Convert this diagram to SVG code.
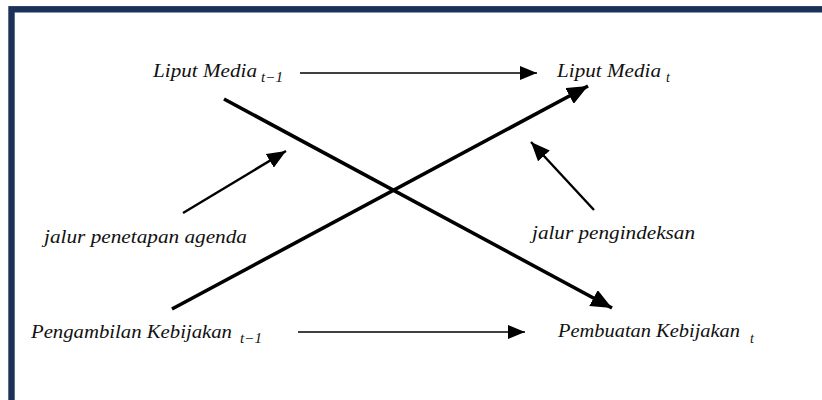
<svg xmlns="http://www.w3.org/2000/svg" width="822" height="400" viewBox="0 0 822 400">
  <style>
    .lbl { font-family: "Liberation Serif", "DejaVu Serif", serif; font-style: italic; font-size: 18px; fill: #111; }
    .sub { font-family: "Liberation Serif", "DejaVu Serif", serif; font-style: italic; font-size: 14px; fill: #111; }
    .thin { stroke: #000; stroke-width: 1.4; fill: none; }
    .mid { stroke: #000; stroke-width: 2.4; fill: none; }
    .thick { stroke: #000; stroke-width: 3.6; fill: none; }
  </style>
  <defs>
    <marker id="headThin" markerUnits="userSpaceOnUse" markerWidth="18" markerHeight="14" refX="17" refY="7" orient="auto">
      <path d="M0,0 L17,7 L0,14 Z" fill="#000"/>
    </marker>
    <marker id="headMid" markerUnits="userSpaceOnUse" markerWidth="20" markerHeight="16" refX="19" refY="8" orient="auto">
      <path d="M0,0 L19,8 L0,16 Z" fill="#000"/>
    </marker>
    <marker id="headThick" markerUnits="userSpaceOnUse" markerWidth="22" markerHeight="18" refX="21" refY="9" orient="auto">
      <path d="M0,0 L21,9 L0,18 Z" fill="#000"/>
    </marker>
  </defs>

  <rect x="0" y="0" width="822" height="400" fill="#fff"/>
  <!-- frame, open at the right and bottom edges -->
  <rect x="11.5" y="9.3" width="830" height="420" fill="none" stroke="#1b3157" stroke-width="6.4"/>

  <g id="connectors">
    <line class="thin" x1="300" y1="73" x2="537" y2="73" marker-end="url(#headThin)"/>
    <line class="thin" x1="298" y1="332" x2="525" y2="332" marker-end="url(#headThin)"/>
    <line class="thick" x1="224" y1="99" x2="612" y2="308" marker-end="url(#headThick)"/>
    <line class="thick" x1="172" y1="309" x2="588" y2="86" marker-end="url(#headThick)"/>
    <line class="mid" x1="183" y1="213" x2="286" y2="151" marker-end="url(#headMid)"/>
    <line class="mid" x1="594" y1="210" x2="531" y2="142" marker-end="url(#headMid)"/>
  </g>

  <g id="liput-media-prev">
    <text class="lbl" x="153" y="77" textLength="104" lengthAdjust="spacingAndGlyphs">Liput Media</text>
    <text class="sub" x="261" y="82" textLength="22" lengthAdjust="spacingAndGlyphs">t−1</text>
  </g>
  <g id="liput-media-now">
    <text class="lbl" x="557" y="77" textLength="104" lengthAdjust="spacingAndGlyphs">Liput Media</text>
    <text class="sub" x="666" y="82">t</text>
  </g>
  <g id="jalur-agenda">
    <text class="lbl" x="44" y="243" textLength="203" lengthAdjust="spacingAndGlyphs">jalur penetapan agenda</text>
  </g>
  <g id="jalur-indeks">
    <text class="lbl" x="532" y="239" textLength="163" lengthAdjust="spacingAndGlyphs">jalur pengindeksan</text>
  </g>
  <g id="pengambilan-prev">
    <text class="lbl" x="31" y="338" textLength="201" lengthAdjust="spacingAndGlyphs">Pengambilan Kebijakan</text>
    <text class="sub" x="240" y="343" textLength="22" lengthAdjust="spacingAndGlyphs">t−1</text>
  </g>
  <g id="pembuatan-now">
    <text class="lbl" x="558" y="337" textLength="182" lengthAdjust="spacingAndGlyphs">Pembuatan Kebijakan</text>
    <text class="sub" x="750" y="343">t</text>
  </g>
</svg>
